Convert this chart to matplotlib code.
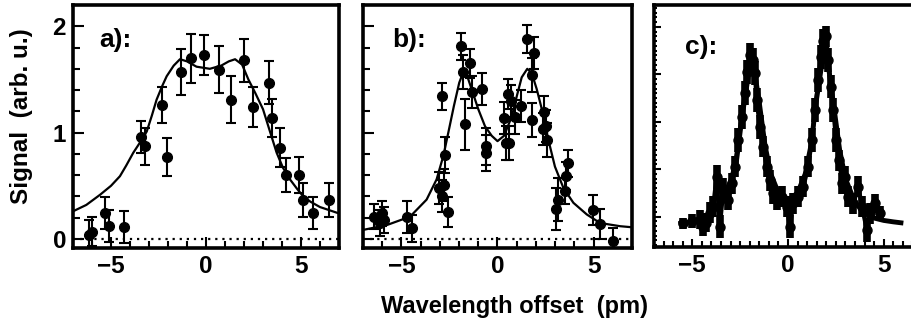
import matplotlib
matplotlib.use('Agg')
import matplotlib.pyplot as plt
from matplotlib.ticker import MultipleLocator, NullFormatter

plt.rcParams['font.family'] = ['Liberation Sans', 'DejaVu Sans']
plt.rcParams['font.weight'] = 'bold'

# ---------------- data: panel a ----------------
a_x = [-6.16, -5.98, -5.29, -5.11, -4.29, -3.42, -3.23, -2.29, -2.06, -1.33, -0.80, -0.10,
       0.70, 1.29, 1.99, 2.48, 3.30, 3.46, 3.91, 4.19, 4.87, 5.13, 5.65, 6.46]
a_y = [0.04, 0.07, 0.245, 0.12, 0.11, 0.96, 0.87, 1.26, 0.77, 1.57, 1.70, 1.73,
       1.59, 1.31, 1.68, 1.24, 1.47, 1.14, 0.86, 0.60, 0.60, 0.37, 0.24, 0.37]
a_err = [0.14, 0.14, 0.15, 0.15, 0.15, 0.15, 0.17, 0.17, 0.18, 0.22, 0.23, 0.19,
         0.22, 0.22, 0.20, 0.19, 0.20, 0.18, 0.18, 0.16, 0.17, 0.16, 0.15, 0.16]
a_fit_x = [-7.0, -6.3, -5.58, -5.0, -4.53, -4.2, -3.83, -3.5, -3.12, -2.85, -2.6, -2.3, -2.07,
           -1.7, -1.37, -1.0, -0.5, 0.2, 0.8, 1.2, 1.53, 1.9, 2.23, 2.6, 3.0, 3.35, 3.72,
           4.05, 4.42, 4.8, 5.12, 5.5, 6.0, 6.5, 7.0]
a_fit_y = [0.26, 0.32, 0.415, 0.50, 0.59, 0.69, 0.81, 0.90, 1.01, 1.16, 1.31, 1.44, 1.53,
           1.63, 1.69, 1.67, 1.62, 1.60, 1.63, 1.67, 1.69, 1.64, 1.50, 1.37, 1.22, 1.02, 0.81,
           0.67, 0.56, 0.47, 0.40, 0.35, 0.30, 0.27, 0.24]

# ---------------- data: panel b ----------------
b_x = [-6.43, -6.12, -6.03, -5.90, -4.70, -4.47, -3.03, -2.90, -2.87, -2.79, -2.73, -2.56,
       -1.90, -1.78, -1.69, -1.43, -1.31, -0.82, -0.60, -0.60, 0.34, 0.44, 0.56, 0.62,
       0.69, 0.91, 1.21, 1.52, 1.81, 1.81, 1.92, 2.39, 2.44, 2.53, 2.56, 3.05, 3.17,
       3.52, 3.57, 3.66, 4.96, 5.34, 6.03]
b_y = [0.21, 0.15, 0.24, 0.18, 0.21, 0.10, 0.48, 0.40, 1.34, 0.51, 0.79, 0.25,
       1.81, 1.57, 1.08, 1.65, 1.38, 1.41, 0.87, 0.81, 1.14, 0.90, 1.36, 0.90,
       1.30, 1.15, 1.25, 1.88, 1.54, 1.12, 1.75, 1.03, 1.19, 1.06, 0.93, 0.28, 0.37,
       0.45, 0.59, 0.71, 0.27, 0.14, -0.02]
b_err = [0.12, 0.12, 0.12, 0.12, 0.15, 0.13, 0.15, 0.15, 0.13, 0.15, 0.17, 0.14,
         0.13, 0.16, 0.24, 0.14, 0.15, 0.15, 0.17, 0.17, 0.15, 0.16, 0.14, 0.16,
         0.15, 0.16, 0.15, 0.13, 0.16, 0.16, 0.15, 0.15, 0.15, 0.15, 0.16, 0.20, 0.20,
         0.12, 0.13, 0.13, 0.14, 0.14, 0.12]
b_fit_x = [-7.0, -5.77, -4.55, -3.69, -3.17, -2.82, -2.56, -2.27, -1.99, -1.78, -1.61, -1.35,
           -1.0, -0.65, -0.3, 0.0, 0.34, 0.74, 1.0, 1.26, 1.55, 1.78, 2.04, 2.35, 2.65,
           2.99, 3.43, 3.95, 4.65, 5.34, 6.38, 7.0]
b_fit_y = [0.085, 0.13, 0.21, 0.37, 0.56, 0.78, 1.00, 1.25, 1.47, 1.57, 1.55, 1.41,
           1.22, 1.06, 0.97, 0.92, 0.97, 1.15, 1.34, 1.52, 1.60, 1.56, 1.41, 1.19, 0.93,
           0.68, 0.48, 0.34, 0.23, 0.15, 0.12, 0.11]

# ---------------- data: panel c ----------------
c_x = [-5.48, -5.04, -4.60, -4.43, -4.26, -4.08, -3.91, -3.73, -3.56, -3.38, -3.12, -2.95,
       -2.77, -2.60, -2.42, -2.25, -2.16, -1.99, -1.85, -1.73, -1.64, -1.47, -1.29, -1.12,
       -0.95, -0.77, -0.59, -0.33, -0.07, 0.10, 0.28, 0.54, 0.80, 1.06, 1.24, 1.41, 1.59,
       1.71, 1.85, 1.99, 2.11, 2.24, 2.37, 2.51, 2.69, 2.81, 2.98, 3.16, 3.42, 3.68, 3.86,
       4.12, 4.29, 4.55, 4.82]
c_y = [0.86, 0.90, 0.93, 0.79, 0.87, 1.08, 1.21, 1.84, 0.79, 1.56, 1.35, 1.70,
       2.05, 2.61, 3.10, 3.60, 4.05, 4.40, 4.30, 4.02, 3.46, 2.89, 2.47, 2.05,
       1.77, 1.49, 1.35, 1.42, 1.21, 0.79, 1.28, 1.42, 1.63, 2.05, 2.61, 3.25, 3.88,
       4.37, 4.70, 4.80, 4.30, 3.74, 3.25, 2.61, 2.19, 1.70, 1.84, 1.42, 1.28, 1.63, 1.21,
       0.72, 1.07, 1.28, 1.07]
c_err = [0.12, 0.15, 0.20, 0.20, 0.20, 0.22, 0.22, 0.25, 0.25, 0.25, 0.22, 0.22,
         0.22, 0.25, 0.25, 0.25, 0.25, 0.25, 0.25, 0.25, 0.25, 0.25, 0.22, 0.22,
         0.22, 0.22, 0.22, 0.22, 0.22, 0.25, 0.22, 0.22, 0.22, 0.22, 0.25, 0.25, 0.25,
         0.25, 0.25, 0.22, 0.25, 0.25, 0.25, 0.25, 0.22, 0.22, 0.22, 0.22, 0.22, 0.22, 0.22,
         0.25, 0.22, 0.20, 0.15]
c_fit_x = [-5.6, -5.0, -4.5, -4.0, -3.5, -3.0, -2.7, -2.4, -2.1, -1.95, -1.8, -1.5, -1.2,
           -0.9, -0.5, 0.0, 0.5, 0.9, 1.2, 1.5, 1.8, 1.95, 2.1, 2.4, 2.7, 3.0, 3.5, 4.0,
           4.5, 5.0, 5.5, 5.9]
c_fit_y = [0.86, 0.90, 0.97, 1.08, 1.30, 1.75, 2.15, 3.10, 3.90, 4.30, 4.20, 3.40, 2.50,
           1.90, 1.50, 1.35, 1.50, 1.90, 2.50, 3.50, 4.30, 4.50, 4.20, 3.30, 2.40, 1.80,
           1.30, 1.08, 0.97, 0.92, 0.89, 0.87]

x_ticks = [-5, 0, 5]
ab_y_ticks = [0, 1, 2]
panel_labels = ['a):', 'b):', 'c):']

# ---------------- figure ----------------
W, H = 912, 327
fig = plt.figure(figsize=(W / 100, H / 100), dpi=100)

def px_axes(l, r, t, b):
    return [l / W, 1 - b / H, (r - l) / W, (b - t) / H]

ax_a = fig.add_axes(px_axes(73, 339, 5, 248))
ax_b = fig.add_axes(px_axes(363, 632, 5, 248))
ax_c = fig.add_axes(px_axes(654, 922, 5, 247))

def style(ax):
    ax.set_xlim(-7, 7)
    ax.set_xticks(x_ticks)
    ax.xaxis.set_minor_locator(MultipleLocator(1))
    ax.tick_params(which='both', direction='in', top=False, right=False, width=1.5)
    ax.tick_params(which='major', length=8, labelsize=17.5, pad=5)
    ax.tick_params(which='minor', length=5)
    for s in ax.spines.values():
        s.set_linewidth(2.6)

for ax, xs, ys, es, fx, fy in [(ax_a, a_x, a_y, a_err, a_fit_x, a_fit_y),
                               (ax_b, b_x, b_y, b_err, b_fit_x, b_fit_y)]:
    style(ax)
    ax.set_ylim(-0.085, 2.2)
    ax.set_yticks(ab_y_ticks)
    ax.yaxis.set_minor_locator(MultipleLocator(0.2))
    ax.axhline(0, color='black', lw=1.6, ls=(0, (1, 2.2)), zorder=1)
    ax.plot(fx, fy, color='black', lw=1.6, zorder=2)
    ax.errorbar(xs, ys, yerr=es, fmt='o', color='black', ms=7, elinewidth=1.5,
                capsize=3.5, capthick=1.5, zorder=3)

ax_b.yaxis.set_major_formatter(NullFormatter())

style(ax_c)
ax_c.set_ylim(0.36, 5.46)
ax_c.yaxis.set_major_locator(MultipleLocator(1))
ax_c.yaxis.set_minor_locator(MultipleLocator(0.1))
ax_c.yaxis.set_major_formatter(NullFormatter())
ax_c.xaxis.set_minor_locator(MultipleLocator(0.5))
ax_c.tick_params(axis='y', which='major', length=5)
ax_c.tick_params(axis='y', which='minor', length=2.5)
ax_c.tick_params(axis='x', which='major', length=6)
ax_c.tick_params(axis='x', which='minor', length=4)
ax_c.plot(c_fit_x, c_fit_y, color='black', lw=3.5, zorder=2)
ax_c.errorbar(c_x, c_y, yerr=c_err, fmt='-', color='black', lw=3, elinewidth=5.5,
              capsize=0, zorder=3)
ax_c.plot(c_x, c_y, 'o', color='black', ms=6.5, zorder=4)

for ax, lab, (lx, ly) in zip([ax_a, ax_b, ax_c], panel_labels,
                             [(0.10, 0.856), (0.108, 0.856), (0.116, 0.827)]):
    ax.text(lx, ly, lab, transform=ax.transAxes, fontsize=19, fontweight='bold',
            ha='left', va='center')

fig.text(22 / W, 1 - 116 / H, 'Signal  (arb. u.)', rotation=90, fontsize=17.5,
         fontweight='bold', ha='center', va='center')
fig.text(515 / W, 1 - 307 / H, 'Wavelength offset  (pm)', fontsize=17,
         fontweight='bold', ha='center', va='center')

fig.savefig('out.png', dpi=100)
